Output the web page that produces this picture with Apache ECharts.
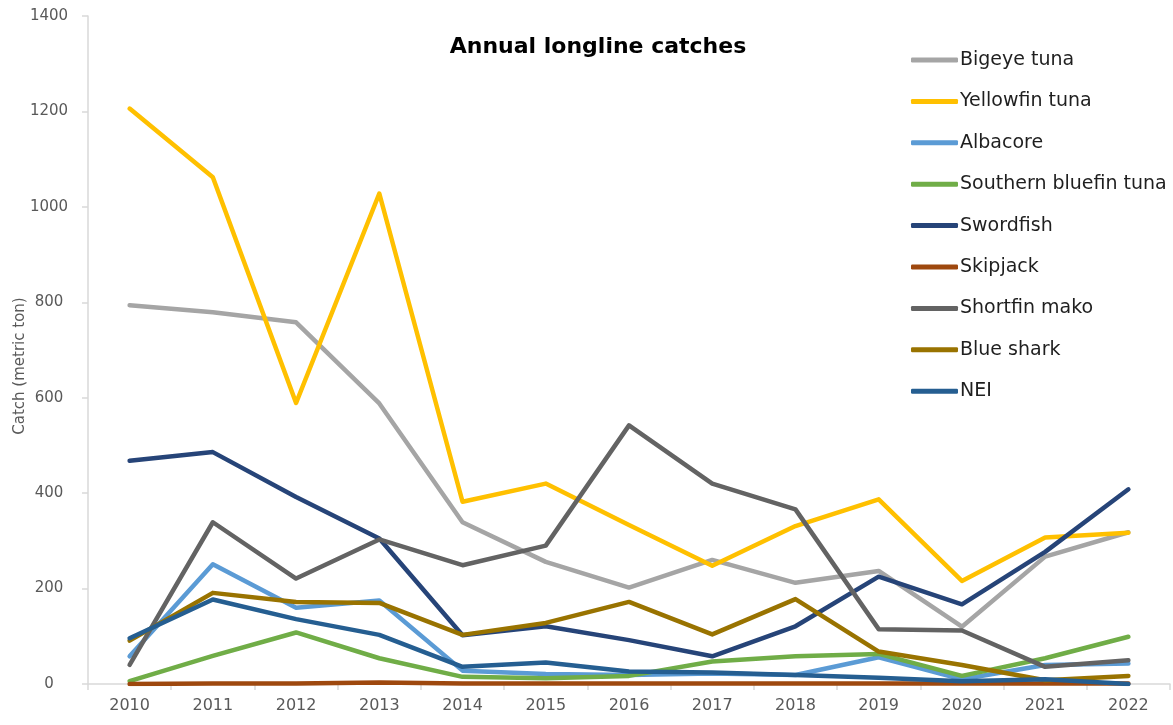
<!DOCTYPE html>
<html>
<head>
<meta charset="utf-8">
<title>Annual longline catches</title>
<script src="https://cdn.jsdelivr.net/npm/echarts@6/dist/echarts.min.js"></script>
<style>
  html, body { margin: 0; padding: 0; background: #ffffff; }
  #chart { width: 1173px; height: 725px; }
</style>
</head>
<body>
<div id="chart"></div>
<script>
// Years on the category axis
const years = ['2010','2011','2012','2013','2014','2015','2016','2017','2018','2019','2020','2021','2022'];

// Catch per species (metric ton)
const bigeyeTuna      = [794, 779, 758, 588, 339, 256, 202, 260, 212, 237, 120, 267, 318];
const yellowfinTuna   = [1206, 1062, 589, 1028, 382, 420, 333, 248, 331, 387, 216, 307, 317];
const albacore        = [58, 251, 160, 175, 28, 21, 19, 22, 19, 56, 10, 40, 43];
const southernBluefin = [6, 59, 108, 54, 15, 12, 17, 47, 58, 63, 17, 54, 99];
const swordfish       = [468, 486, 392, 305, 102, 121, 92, 58, 121, 225, 167, 277, 408];
const skipjack        = [0, 1, 1, 3, 1, 1, 1, 1, 1, 1, 1, 1, 1];
const shortfinMako    = [40, 339, 221, 303, 249, 290, 542, 420, 366, 115, 112, 36, 50];
const blueShark       = [91, 191, 172, 170, 103, 128, 172, 104, 178, 68, 40, 8, 17];
const nei             = [96, 177, 136, 103, 36, 45, 26, 24, 19, 13, 6, 10, 0];

// Value axis ticks
const yTicks = [0, 200, 400, 600, 800, 1000, 1200, 1400];

const seriesDefs = [
  { name: 'Bigeye tuna',           data: bigeyeTuna,      color: '#A5A5A5' },
  { name: 'Yellowfin tuna',        data: yellowfinTuna,   color: '#FFC000' },
  { name: 'Albacore',              data: albacore,        color: '#5B9BD5' },
  { name: 'Southern bluefin tuna', data: southernBluefin, color: '#70AD47' },
  { name: 'Swordfish',             data: swordfish,       color: '#264478' },
  { name: 'Skipjack',              data: skipjack,        color: '#9E480E' },
  { name: 'Shortfin mako',         data: shortfinMako,    color: '#636363' },
  { name: 'Blue shark',            data: blueShark,       color: '#997300' },
  { name: 'NEI',                   data: nei,             color: '#255E91' }
];

const FONT = '"DejaVu Sans", "Liberation Sans", sans-serif';
const chart = echarts.init(document.getElementById('chart'), null, { renderer: 'canvas' });

chart.setOption({
  animation: false,
  backgroundColor: '#ffffff',
  title: {
    text: 'Annual longline catches',
    left: 593, top: 31,
    textAlign: 'center',
    textStyle: { fontFamily: FONT, fontSize: 22, fontWeight: 'bold', color: '#000000' }
  },
  legend: {
    orient: 'vertical',
    left: 906, top: 45,
    icon: 'roundRect',
    itemWidth: 47, itemHeight: 5,
    itemGap: 21.4,
    textStyle: { fontFamily: FONT, fontSize: 19, color: '#1f1f1f', lineHeight: 20, padding: [0, 0, 0, -3] },
    data: seriesDefs.map(s => s.name)
  },
  grid: { left: 88, right: 3, top: 16, bottom: 41, containLabel: false },
  xAxis: {
    type: 'category',
    data: years,
    boundaryGap: true,
    axisLine: { lineStyle: { color: '#D9D9D9', width: 1.5 } },
    axisTick: { show: true, length: 6, lineStyle: { color: '#D9D9D9', width: 1.5 } },
    axisLabel: { fontFamily: FONT, fontSize: 16, color: '#595959', margin: 14 },
    splitLine: { show: false }
  },
  yAxis: {
    type: 'value',
    min: yTicks[0], max: yTicks[yTicks.length - 1], interval: 200,
    axisLine: { show: true, lineStyle: { color: '#D9D9D9', width: 1.5 } },
    axisTick: { show: true, length: 6, lineStyle: { color: '#D9D9D9', width: 1.5 } },
    axisLabel: {
      fontFamily: FONT, fontSize: 15, color: '#595959',
      align: 'center', margin: 39,
      formatter: v => String(v)
    },
    splitLine: { show: false }
  },
  graphic: [{
    type: 'text',
    x: 20, y: 366,
    rotation: Math.PI / 2,
    style: {
      text: 'Catch (metric ton)',
      font: '15px ' + FONT,
      fill: '#595959',
      align: 'center',
      verticalAlign: 'middle'
    }
  }],
  series: seriesDefs.map(s => ({
    name: s.name,
    type: 'line',
    data: s.data,
    showSymbol: false,
    symbol: 'none',
    lineStyle: { color: s.color, width: 4.5, cap: 'round', join: 'round' },
    itemStyle: { color: s.color }
  }))
});
</script>
</body>
</html>
